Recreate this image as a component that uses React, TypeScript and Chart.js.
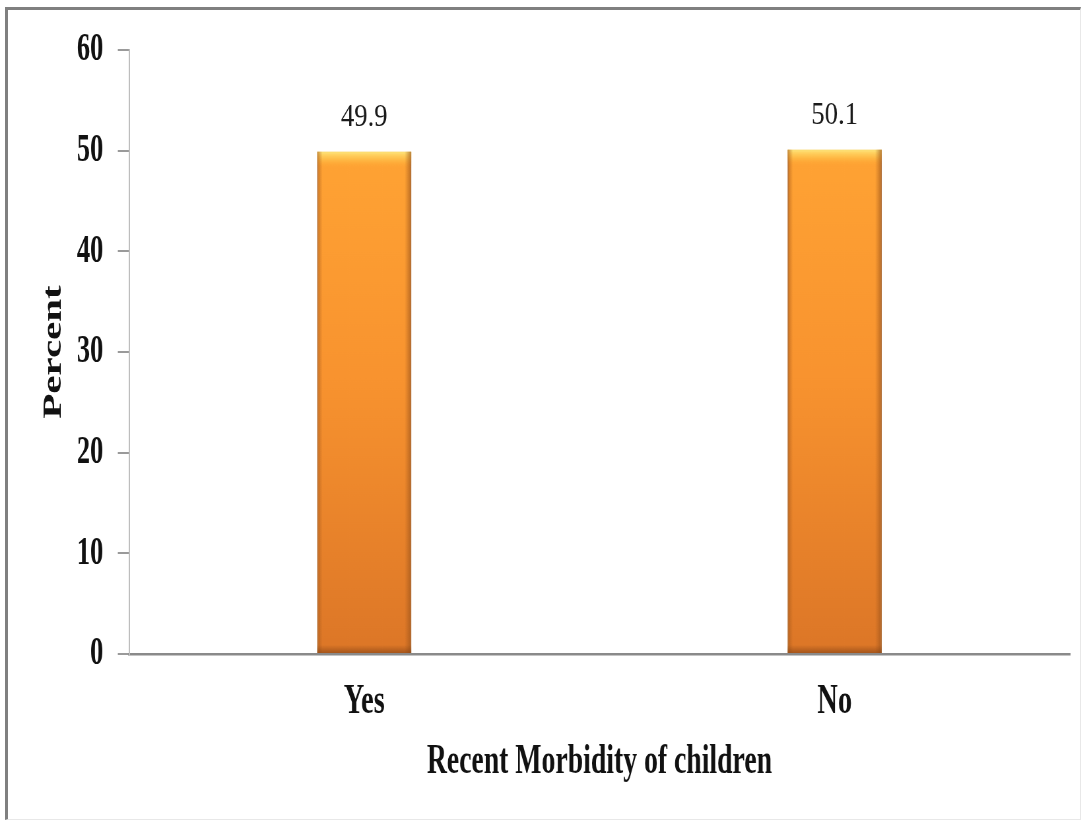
import { useEffect, useRef } from 'react';
import { Chart, registerables } from 'chart.js';

Chart.register(...registerables);

// Chart data
const categories = ['Yes', 'No'];
const percentValues = [49.9, 50.1];
const yTickValues = [0, 10, 20, 30, 40, 50, 60];
const xAxisTitle = 'Recent Morbidity of children';
const yAxisTitle = 'Percent';

// Page and drawing setup: the canvas is drawn wide and squeezed horizontally,
// which gives the narrow, condensed serif lettering.
const PAGE_W = 1089;
const PAGE_H = 824;
const SQUEEZE = 0.66;
const CANVAS_W = Math.round(PAGE_W / SQUEEZE);
const SERIF = "'Liberation Serif', 'Times New Roman', serif";
const BASE_ORANGE = '#F7922F';

// Orange bar fill, lighter at the top and deeper toward the base.
function barFill(ctx: any) {
  const chart = ctx.chart;
  const yScale = chart.scales?.y;
  const v = ctx.parsed?.y;
  if (!yScale || !chart.chartArea || !Number.isFinite(v)) return BASE_ORANGE;
  const top = yScale.getPixelForValue(v);
  const base = yScale.getPixelForValue(0);
  if (!Number.isFinite(top) || !Number.isFinite(base)) return BASE_ORANGE;
  const g = chart.ctx.createLinearGradient(0, top, 0, base);
  g.addColorStop(0, '#FFA334');
  g.addColorStop(0.45, '#F8932F');
  g.addColorStop(1, '#DC7627');
  return g;
}

// Bevel shading on each bar: bright top edge, darker sides and base.
const barBevel = {
  id: 'barBevel',
  afterDatasetsDraw(chart: any) {
    const c = chart.ctx;
    chart.getDatasetMeta(0).data.forEach((el: any) => {
      const { x, y, base, width } = el.getProps(['x', 'y', 'base', 'width'], true);
      if (![x, y, base, width].every(Number.isFinite)) return;
      const l = x - width / 2;
      const r = x + width / 2;
      c.save();
      const top = c.createLinearGradient(0, y, 0, y + 16);
      top.addColorStop(0, 'rgba(255,228,120,1)');
      top.addColorStop(0.45, 'rgba(255,205,85,0.65)');
      top.addColorStop(1, 'rgba(255,170,50,0)');
      c.fillStyle = top;
      c.fillRect(l, y, width, 16);

      const left = c.createLinearGradient(l, 0, l + 8, 0);
      left.addColorStop(0, 'rgba(160,85,25,0.6)');
      left.addColorStop(1, 'rgba(160,85,25,0)');
      c.fillStyle = left;
      c.fillRect(l, y, 8, base - y);

      const right = c.createLinearGradient(r, 0, r - 10, 0);
      right.addColorStop(0, 'rgba(150,80,25,0.65)');
      right.addColorStop(1, 'rgba(150,80,25,0)');
      c.fillStyle = right;
      c.fillRect(r - 10, y, 10, base - y);

      const bottom = c.createLinearGradient(0, base, 0, base - 8);
      bottom.addColorStop(0, 'rgba(130,65,20,0.6)');
      bottom.addColorStop(1, 'rgba(130,65,20,0)');
      c.fillStyle = bottom;
      c.fillRect(l, base - 8, width, 8);
      c.restore();
    });
  },
};

// Value printed above each bar.
const valueLabels = {
  id: 'valueLabels',
  afterDatasetsDraw(chart: any) {
    const c = chart.ctx;
    const values = chart.data.datasets[0].data as number[];
    chart.getDatasetMeta(0).data.forEach((el: any, i: number) => {
      if (!Number.isFinite(el.x) || !Number.isFinite(el.y)) return;
      c.save();
      c.translate(el.x, el.y - 26);
      c.scale(1.3, 1);
      c.font = `31px ${SERIF}`;
      c.fillStyle = '#1a1a1a';
      c.textAlign = 'center';
      c.textBaseline = 'alphabetic';
      c.fillText(values[i].toFixed(1), 0, 0);
      c.restore();
    });
  },
};

export default function App() {
  const canvasRef = useRef<HTMLCanvasElement | null>(null);

  useEffect(() => {
    const canvas = canvasRef.current;
    if (!canvas) return;
    const chart = new Chart(canvas, {
      type: 'bar',
      data: {
        labels: categories,
        datasets: [
          {
            data: percentValues,
            backgroundColor: barFill,
            borderColor: '#C97C36',
            borderWidth: 1.5,
            barPercentage: 0.2,
            categoryPercentage: 1,
          },
        ],
      },
      options: {
        responsive: false,
        animation: false,
        devicePixelRatio: 1,
        layout: { padding: { top: 50, right: 29, bottom: 0, left: 0 } },
        plugins: {
          legend: { display: false },
          tooltip: { enabled: false },
        },
        scales: {
          x: {
            grid: { display: false, drawTicks: false },
            border: { display: true, color: '#8a8a8a', width: 2.5 },
            ticks: {
              color: '#111',
              padding: 22,
              font: { family: SERIF, size: 43, weight: 'bold' },
            },
            title: {
              display: true,
              text: xAxisTitle,
              color: '#111',
              font: { family: SERIF, size: 42, weight: 'bold' },
              padding: { top: 0, bottom: 37 },
            },
            afterFit: (s: any) => {
              s.height = 170;
            },
          },
          y: {
            min: 0,
            max: 60,
            afterBuildTicks: (s: any) => {
              s.ticks = yTickValues.map((v) => ({ value: v }));
            },
            ticks: {
              color: '#111',
              padding: 22,
              font: { family: SERIF, size: 40, weight: 'bold' },
            },
            grid: {
              drawOnChartArea: false,
              drawTicks: true,
              tickLength: 17,
              color: '#9a9a9a',
              lineWidth: 2,
            },
            border: { display: true, color: '#bdbdbd', width: 2 },
            title: {
              display: true,
              text: yAxisTitle,
              color: '#111',
              font: { family: SERIF, size: 41, weight: 'bold' },
              padding: { top: 57, bottom: 0 },
            },
            afterFit: (s: any) => {
              s.width = 195.5;
            },
          },
        },
      },
      plugins: [barBevel, valueLabels],
    });
    return () => chart.destroy();
  }, []);

  return (
    <div
      style={{
        position: 'fixed',
        left: 0,
        top: 0,
        width: PAGE_W,
        height: PAGE_H,
        overflow: 'hidden',
        background: '#fff',
      }}
    >
      <div
        style={{
          position: 'absolute',
          left: 5,
          top: 7,
          width: 1076,
          height: 813,
          boxSizing: 'border-box',
          borderTop: '3px solid #808080',
          borderLeft: '3px solid #808080',
          borderRight: '1px solid #e8e8e8',
          borderBottom: '1px solid #e8e8e8',
        }}
      />
      <canvas
        ref={canvasRef}
        width={CANVAS_W}
        height={PAGE_H}
        style={{
          position: 'absolute',
          left: 0,
          top: 0,
          width: CANVAS_W,
          height: PAGE_H,
          transform: `scaleX(${SQUEEZE})`,
          transformOrigin: '0 0',
        }}
      />
    </div>
  );
}
